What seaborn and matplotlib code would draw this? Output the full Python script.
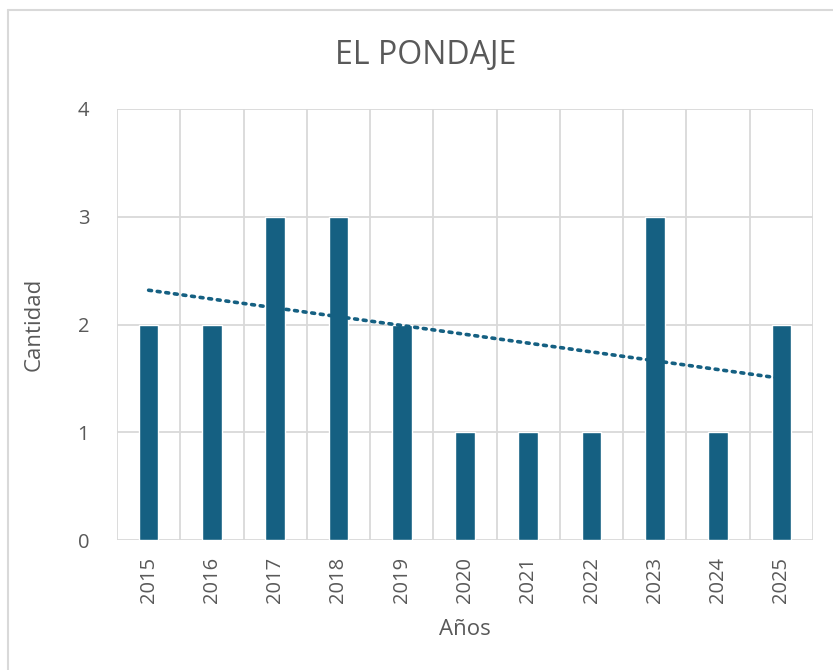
import numpy as np
import pandas as pd
import matplotlib
matplotlib.use("Agg")
import matplotlib.pyplot as plt
import seaborn as sns
from matplotlib.lines import Line2D

# data
years = ["2015", "2016", "2017", "2018", "2019", "2020", "2021", "2022", "2023", "2024", "2025"]
counts = [2, 2, 3, 3, 2, 1, 1, 1, 3, 1, 2]

df = pd.DataFrame({"Años": years, "Cantidad": counts})

sns.set_style("white")
plt.rcParams['font.family'] = ['Open Sans', 'DejaVu Sans']

bar_color = "#156082"
text_color = "#595959"
grid_color = "#d9d9d9"

fig = plt.figure(figsize=(8.33, 6.70), dpi=100)
ax = fig.add_axes([117 / 833, 1 - 540 / 670, (813 - 117) / 833, (540 - 109) / 670])

sns.barplot(data=df, x="Años", y="Cantidad", color=bar_color, width=0.31,
            saturation=1, ax=ax, zorder=3)

# linear trendline
xs = np.arange(len(counts))
m, b = np.polyfit(xs, counts, 1)
ax.plot(xs, m * xs + b, linestyle=(0, (0.8, 1.6)), color=bar_color,
        linewidth=2.6, dash_capstyle="round", zorder=4)

ax.set_xlim(-0.5, len(years) - 0.5)
ax.set_ylim(0, 4)
ax.set_yticks([0, 1, 2, 3, 4])

# vertical grid at category boundaries, horizontal grid at major ticks
ax.set_xticks(np.arange(-0.5, len(years)), minor=True)
ax.grid(axis="x", which="minor", color=grid_color, linewidth=1.3, zorder=0)
ax.grid(axis="y", which="major", color=grid_color, linewidth=1.3, zorder=0)
ax.set_axisbelow(True)
for s in ax.spines.values():
    s.set_visible(False)

ax.tick_params(axis="x", which="both", length=0, pad=12, labelsize=14.5,
               labelcolor=text_color, labelrotation=90)
ax.tick_params(axis="y", length=0, pad=20, labelsize=14.5, labelcolor=text_color)

ax.set_xlabel("Años", fontsize=16, color=text_color, labelpad=12)
ax.set_ylabel("Cantidad", fontsize=16, color=text_color)
ax.yaxis.set_label_coords((45 - 117) / 696, 0.5)

fig.text(426 / 833, 1 - 55 / 670, "EL PONDAJE", fontsize=23, color=text_color,
         ha="center", va="center")

# chart border (left and top edges visible)
fig.add_artist(Line2D([8 / 833, 8 / 833], [0, 1 - 10 / 670], color=grid_color,
                      linewidth=1.5, transform=fig.transFigure))
fig.add_artist(Line2D([8 / 833, 1], [1 - 10 / 670, 1 - 10 / 670], color=grid_color,
                      linewidth=1.5, transform=fig.transFigure))

fig.savefig("out.png", dpi=100)
